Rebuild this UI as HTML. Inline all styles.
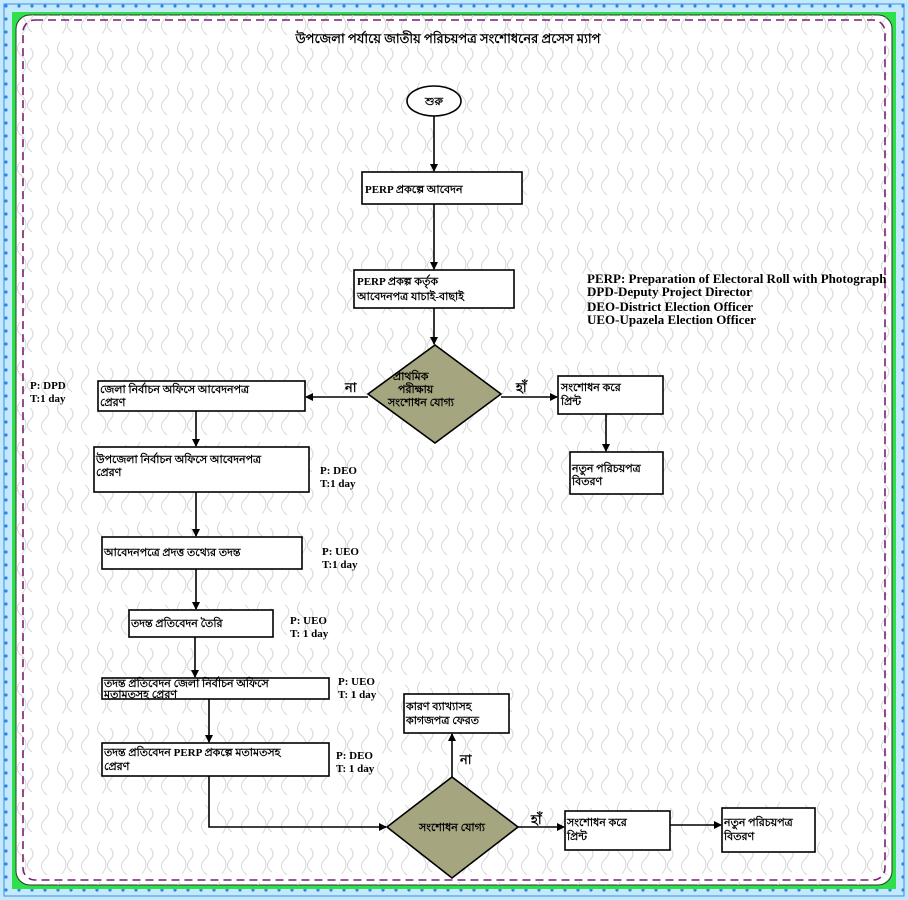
<!DOCTYPE html>
<html><head><meta charset="utf-8"><style>
html,body{margin:0;padding:0;width:908px;height:900px;overflow:hidden;background:#bfe6fb}
</style></head><body>
<svg width="908" height="900" viewBox="0 0 908 900" xmlns="http://www.w3.org/2000/svg" style="display:block">
<defs>
<pattern id="dots" width="13" height="13" patternUnits="userSpaceOnUse"><rect width="13" height="13" fill="#c4e8fc"/><circle cx="6" cy="6" r="1.6" fill="#2d86e0"/></pattern>
<pattern id="puz" width="40" height="40" patternUnits="userSpaceOnUse">
<path d="M5 5 q8 6 0 14 q-8 8 2 16 M20 2 q-6 8 2 14 q8 8 0 18 M30 8 q6 6 0 12 q-6 6 2 12" fill="none" stroke="#d6d6d6" stroke-width="1"/>
</pattern>
<marker id="ah" markerWidth="8" markerHeight="8" refX="7" refY="4" orient="auto" markerUnits="userSpaceOnUse"><path d="M0,0 L8,4 L0,8 z" fill="#000"/></marker>
</defs>
<rect width="908" height="900" fill="url(#dots)"/>
<rect x="4" y="4" width="900" height="892" fill="none" stroke="#3a8ee6" stroke-width="1"/>
<rect x="12" y="12" width="884" height="877" fill="#2ee04a"/>
<rect x="16" y="15" width="876" height="870" rx="14" fill="#fff" stroke="#333" stroke-width="1"/>
<rect x="16" y="15" width="876" height="870" rx="14" fill="url(#puz)"/>
<rect x="23" y="20" width="862" height="860" rx="12" fill="none" stroke="#7a1f78" stroke-width="1.6" stroke-dasharray="8,5"/>
<g font-family="Liberation Serif, serif" font-weight="bold" font-size="12" fill="#000">
<text x="448" y="43" text-anchor="middle" font-size="13">উপজেলা পর্যায়ে জাতীয় পরিচয়পত্র সংশোধনের প্রসেস ম্যাপ</text>
</g>
<g stroke="#000" stroke-width="1.6" fill="#fff">
<ellipse cx="434" cy="101" rx="27" ry="15"/>
<rect x="362" y="172" width="160" height="32"/>
<rect x="354" y="270" width="160" height="38"/>
<polygon points="435,345 501,394 435,443 368,394" fill="#a5a680"/>
<rect x="98" y="381" width="207" height="30"/>
<rect x="558" y="376" width="105" height="38"/>
<rect x="570" y="452" width="93" height="42"/>
<rect x="94" y="447" width="215" height="45"/>
<rect x="102" y="537" width="200" height="32"/>
<rect x="129" y="610" width="144" height="27"/>
<rect x="102" y="678" width="227" height="21"/>
<rect x="102" y="743" width="227" height="33"/>
<rect x="404" y="694" width="105" height="39"/>
<polygon points="452,777 518,827 452,878 387,827" fill="#a5a680"/>
<rect x="565" y="811" width="105" height="39"/>
<rect x="722" y="808" width="93" height="44"/>
</g>
<g stroke="#000" stroke-width="1.6" fill="none" marker-end="url(#ah)">
<line x1="434" y1="116" x2="434" y2="171"/>
<line x1="434" y1="204" x2="434" y2="269"/>
<line x1="434" y1="308" x2="434" y2="344"/>
<line x1="368" y1="397" x2="306" y2="397"/>
<line x1="501" y1="397" x2="557" y2="397"/>
<line x1="606" y1="414" x2="606" y2="451"/>
<line x1="196" y1="411" x2="196" y2="446"/>
<line x1="196" y1="492" x2="196" y2="536"/>
<line x1="196" y1="569" x2="196" y2="609"/>
<line x1="195" y1="637" x2="195" y2="677"/>
<line x1="209" y1="699" x2="209" y2="742"/>
<polyline points="209,776 209,827 386,827"/>
<line x1="452" y1="777" x2="452" y2="734"/>
<line x1="518" y1="827" x2="564" y2="827"/>
<line x1="670" y1="825" x2="721" y2="825"/>
</g>
<g font-family="Liberation Serif, serif" font-weight="bold" font-size="11" fill="#000">
<text x="434" y="105" text-anchor="middle">শুরু</text>
<text x="365" y="193">PERP প্রকল্পে আবেদন</text>
<text x="357" y="285">PERP প্রকল্প কর্তৃক</text>
<text x="357" y="300">আবেদনপত্র যাচাই-বাছাই</text>
<text x="393" y="380">প্রাথমিক</text>
<text x="398" y="393">পরীক্ষায়</text>
<text x="388" y="406">সংশোধন যোগ্য</text>
<text x="100" y="393">জেলা নির্বাচন অফিসে আবেদনপত্র</text>
<text x="100" y="406">প্রেরণ</text>
<text x="561" y="391">সংশোধন করে</text>
<text x="561" y="405">প্রিন্ট</text>
<text x="572" y="472">নতুন পরিচয়পত্র</text>
<text x="572" y="485">বিতরণ</text>
<text x="96" y="463">উপজেলা নির্বাচন অফিসে আবেদনপত্র</text>
<text x="96" y="476">প্রেরণ</text>
<text x="104" y="556">আবেদনপত্রে প্রদত্ত তথ্যের তদন্ত</text>
<text x="131" y="627">তদন্ত প্রতিবেদন তৈরি</text>
<text x="104" y="687">তদন্ত প্রতিবেদন জেলা নির্বাচন অফিসে</text>
<text x="104" y="698">মতামতসহ প্রেরণ</text>
<text x="104" y="756">তদন্ত প্রতিবেদন PERP প্রকল্পে মতামতসহ</text>
<text x="104" y="770">প্রেরণ</text>
<text x="406" y="710">কারণ ব্যাখ্যাসহ</text>
<text x="406" y="724">কাগজপত্র ফেরত</text>
<text x="452" y="831" text-anchor="middle">সংশোধন যোগ্য</text>
<text x="567" y="826">সংশোধন করে</text>
<text x="567" y="840">প্রিন্ট</text>
<text x="724" y="826">নতুন পরিচয়পত্র</text>
<text x="724" y="840">বিতরণ</text>
<text x="345" y="392" font-size="13">না</text>
<text x="516" y="392" font-size="13">হাঁ</text>
<text x="460" y="764" font-size="13">না</text>
<text x="531" y="824" font-size="13">হাঁ</text>
<text x="30" y="389">P: DPD</text><text x="30" y="402">T:1 day</text>
<text x="320" y="474">P: DEO</text><text x="320" y="487">T:1 day</text>
<text x="322" y="555">P: UEO</text><text x="322" y="568">T:1 day</text>
<text x="290" y="624">P: UEO</text><text x="290" y="637">T: 1 day</text>
<text x="338" y="685">P: UEO</text><text x="338" y="698">T: 1 day</text>
<text x="336" y="759">P: DEO</text><text x="336" y="772">T: 1 day</text>
<g font-size="13">
<text x="587" y="283">PERP: Preparation of Electoral Roll with Photograph</text>
<text x="587" y="296">DPD-Deputy Project Director</text>
<text x="587" y="311">DEO-District Election Officer</text>
<text x="587" y="324">UEO-Upazela Election Officer</text>
</g>
</g>
</svg>
</body></html>
